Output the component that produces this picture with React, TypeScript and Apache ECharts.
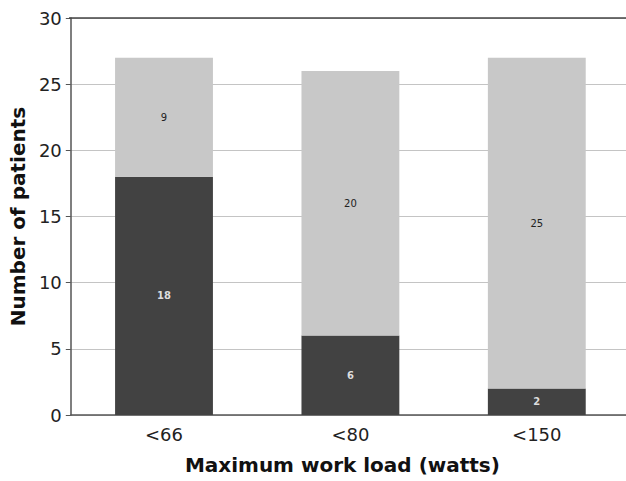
import React, { useEffect, useRef } from "react";
import * as echarts from "echarts";

const categories = ["<66", "<80", "<150"];
const darkValues = [18, 6, 2];
const lightValues = [9, 20, 25];
const yTicks = [0, 5, 10, 15, 20, 25, 30];

export default function App() {
  const ref = useRef<HTMLDivElement>(null);
  useEffect(() => {
    document.body.style.margin = "0";
    if (!ref.current) return;
    const chart = echarts.init(ref.current, null, { renderer: "svg" });
    chart.setOption({
      animation: false,
      textStyle: { fontFamily: "DejaVu Sans" },
      grid: { left: 69, top: 18, width: 561, height: 397, containLabel: false },
      xAxis: {
        type: "category",
        data: categories,
        axisLine: { show: true, lineStyle: { color: "#555", width: 1.5 } },
        axisTick: { show: false },
        axisLabel: { fontSize: 18, color: "#222", margin: 10, fontFamily: "DejaVu Sans" },
        name: "Maximum work load (watts)",
        nameLocation: "middle",
        nameGap: 40,
        nameTextStyle: {
          fontSize: 20,
          fontWeight: "bold",
          color: "#111",
          fontFamily: "DejaVu Sans",
          padding: [0, 16, 0, 0],
        },
      },
      yAxis: {
        type: "value",
        min: yTicks[0],
        max: yTicks[yTicks.length - 1],
        interval: 5,
        axisLine: { show: true, lineStyle: { color: "#555", width: 1.5 } },
        axisTick: { show: true, length: 5, lineStyle: { color: "#555" } },
        axisLabel: { fontSize: 18, color: "#222", margin: 9, fontFamily: "DejaVu Sans" },
        splitLine: { show: true, lineStyle: { color: "#c4c4c4", width: 1 } },
        name: "Number of patients",
        nameLocation: "middle",
        nameGap: 37,
        nameTextStyle: {
          fontSize: 20,
          fontWeight: "bold",
          color: "#111",
          fontFamily: "DejaVu Sans",
        },
      },
      graphic: [
        {
          type: "line",
          shape: { x1: 69, y1: 18, x2: 640, y2: 18 },
          style: { stroke: "#444", lineWidth: 1.5 },
          z: 10,
        },
      ],
      series: [
        {
          type: "bar",
          stack: "total",
          data: darkValues,
          barWidth: "52.5%",
          itemStyle: { color: "#424242" },
          label: {
            show: true,
            position: "inside",
            fontSize: 10,
            fontWeight: "bold",
            color: "#dddddd",
            fontFamily: "DejaVu Sans",
          },
        },
        {
          type: "bar",
          stack: "total",
          data: lightValues,
          barWidth: "52.5%",
          itemStyle: { color: "#c8c8c8" },
          label: {
            show: true,
            position: "inside",
            fontSize: 10,
            color: "#222",
            fontFamily: "DejaVu Sans",
          },
        },
      ],
    });
    return () => chart.dispose();
  }, []);
  return (
    <div style={{ width: 626, height: 481, overflow: "hidden", position: "relative" }}>
      <div ref={ref} style={{ width: 640, height: 481 }} />
    </div>
  );
}
